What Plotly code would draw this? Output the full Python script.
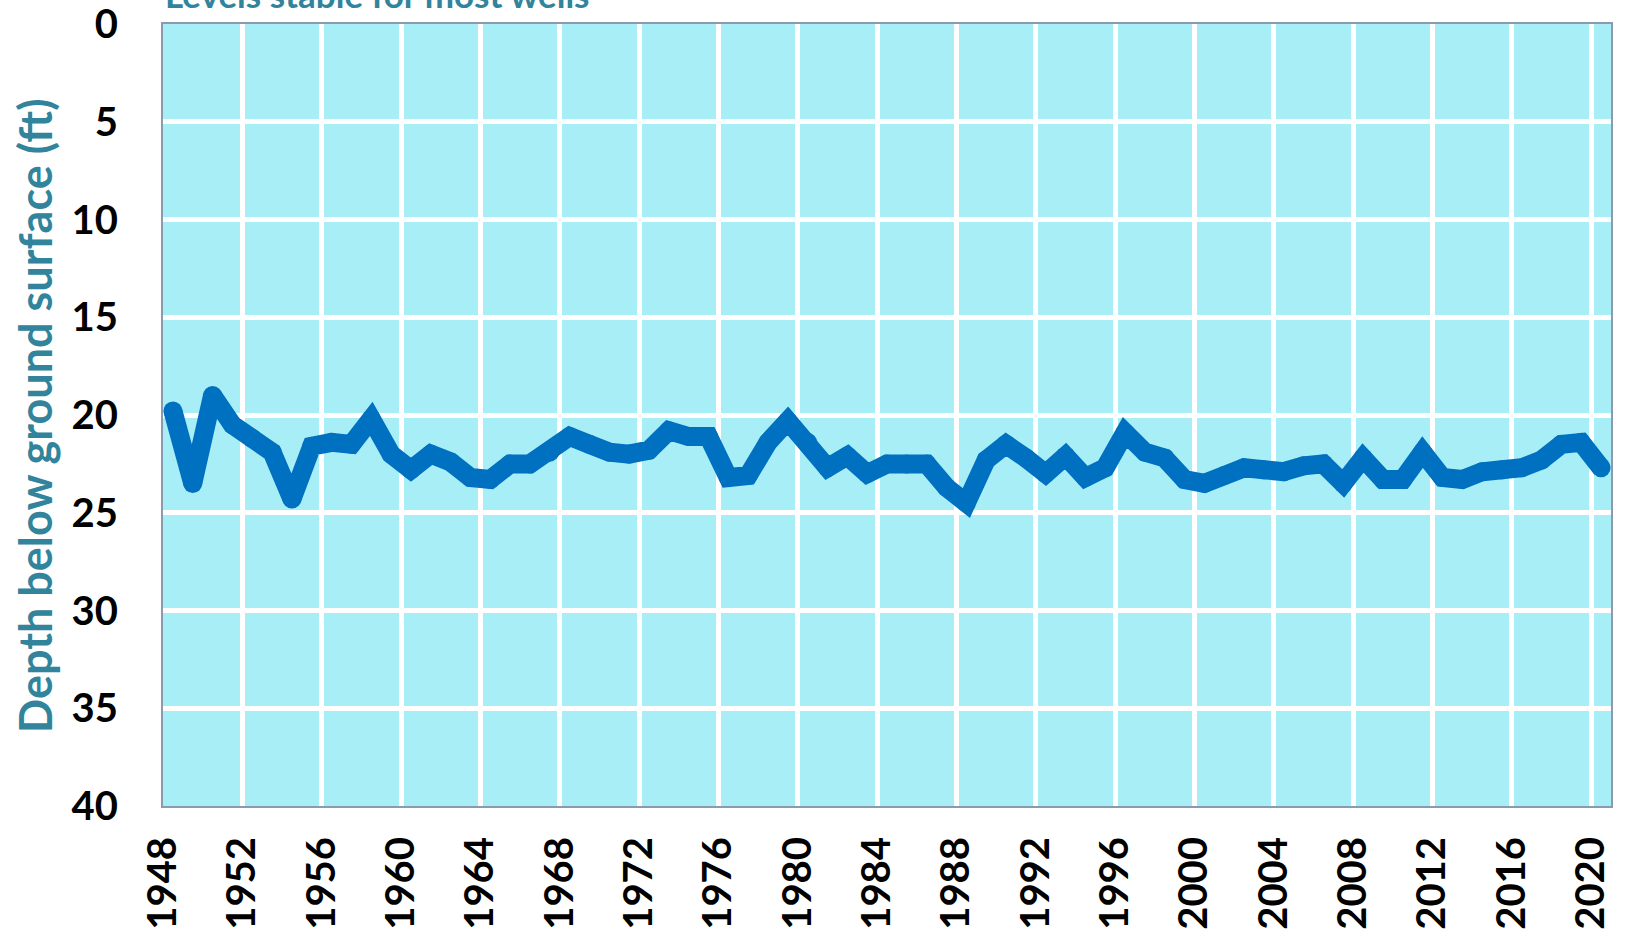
import plotly.graph_objects as go

years = [1948, 1949, 1950, 1951, 1952, 1953, 1954, 1955, 1956, 1957,
         1958, 1959, 1960, 1961, 1962, 1963, 1964, 1965, 1966, 1967,
         1968, 1969, 1970, 1971, 1972, 1973, 1974, 1975, 1976, 1977,
         1978, 1979, 1980, 1981, 1982, 1983, 1984, 1985, 1986, 1987,
         1988, 1989, 1990, 1991, 1992, 1993, 1994, 1995, 1996, 1997,
         1998, 1999, 2000, 2001, 2002, 2003, 2004, 2005, 2006, 2007,
         2008, 2009, 2010, 2011, 2012, 2013, 2014, 2015, 2016, 2017,
         2018, 2019, 2020]

depth_ft = [19.8, 23.5, 19.0, 20.5, 21.2, 21.9, 24.3, 21.6, 21.4, 21.5,
            20.2, 22.0, 22.8, 22.0, 22.4, 23.2, 23.3, 22.5, 22.5, 21.9,
            21.1, 21.5, 21.9, 22.0, 21.8, 20.8, 21.1, 21.1, 23.2, 23.1,
            21.4, 20.3, 21.4, 22.7, 22.1, 23.0, 22.5, 22.5, 22.5, 23.7,
            24.5, 22.3, 21.5, 22.2, 23.0, 22.1, 23.2, 22.7, 20.9, 21.9,
            22.2, 23.3, 23.5, 23.1, 22.7, 22.8, 22.9, 22.6, 22.5, 23.5,
            22.2, 23.3, 23.3, 21.9, 23.2, 23.3, 22.9, 22.8, 22.7, 22.3,
            21.5, 21.4, 22.7]

x_tick_vals = [1948, 1952, 1956, 1960, 1964, 1968, 1972, 1976, 1980, 1984,
               1988, 1992, 1996, 2000, 2004, 2008, 2012, 2016, 2020]
y_tick_vals = [0, 5, 10, 15, 20, 25, 30, 35, 40]

title_text = "Levels stable for most wells"
y_title_text = "Depth below ground surface (ft)"

FONT = "Lato"
TEAL = "#31849B"
LINE_W = 19

fig = go.Figure()
fig.add_trace(go.Scatter(
    x=[y + 0.5 for y in years],
    y=depth_ft,
    mode="lines+markers",
    line=dict(color="#0070C0", width=LINE_W),
    marker=dict(color="#0070C0", size=LINE_W, line=dict(width=0)),
    showlegend=False,
    hoverinfo="skip",
    cliponaxis=False,
))

fig.update_layout(
    width=1625, height=935, autosize=False,
    margin=dict(l=163, r=14, t=24, b=129),
    paper_bgcolor="white",
    plot_bgcolor="#A7EEF7",
    font=dict(family=FONT, color="black"),
    xaxis=dict(
        range=[1948, 2021],
        tickmode="array", tickvals=x_tick_vals,
        ticktext=[str(v) for v in x_tick_vals],
        tickangle=-90,
        tickfont=dict(family=FONT, size=40, color="black", weight="bold"),
        ticklabelstandoff=13,
        ticklabeloverflow="allow",
        automargin=False,
        showgrid=True, gridcolor="white", gridwidth=5,
        showline=True, linecolor="#8A9AB0", linewidth=2, mirror=True,
        zeroline=False, ticks="",
    ),
    yaxis=dict(
        range=[40, 0],
        tickmode="array", tickvals=y_tick_vals,
        ticktext=[str(v) for v in y_tick_vals],
        tickfont=dict(family=FONT, size=40, color="black", weight="bold"),
        ticklabelstandoff=35,
        ticklabeloverflow="allow",
        automargin=False,
        showgrid=True, gridcolor="white", gridwidth=5,
        showline=True, linecolor="#8A9AB0", linewidth=2, mirror=True,
        zeroline=False, ticks="",
    ),
    annotations=[
        dict(text=title_text, xref="paper", yref="paper",
             x=0.0, y=1, xanchor="left", yanchor="bottom", yshift=7,
             showarrow=False,
             font=dict(family=FONT, size=35, color=TEAL, weight="bold")),
        dict(text=y_title_text, xref="paper", yref="paper",
             x=-0.0884, y=0.5, xanchor="center", yanchor="middle",
             textangle=-90, showarrow=False,
             font=dict(family=FONT, size=45, color=TEAL, weight="bold")),
    ],
)

fig.write_html(
    "out.html",
    config={"displayModeBar": False, "staticPlot": True},
    post_script="document.body.style.margin='0px';document.body.style.overflow='hidden';",
)
